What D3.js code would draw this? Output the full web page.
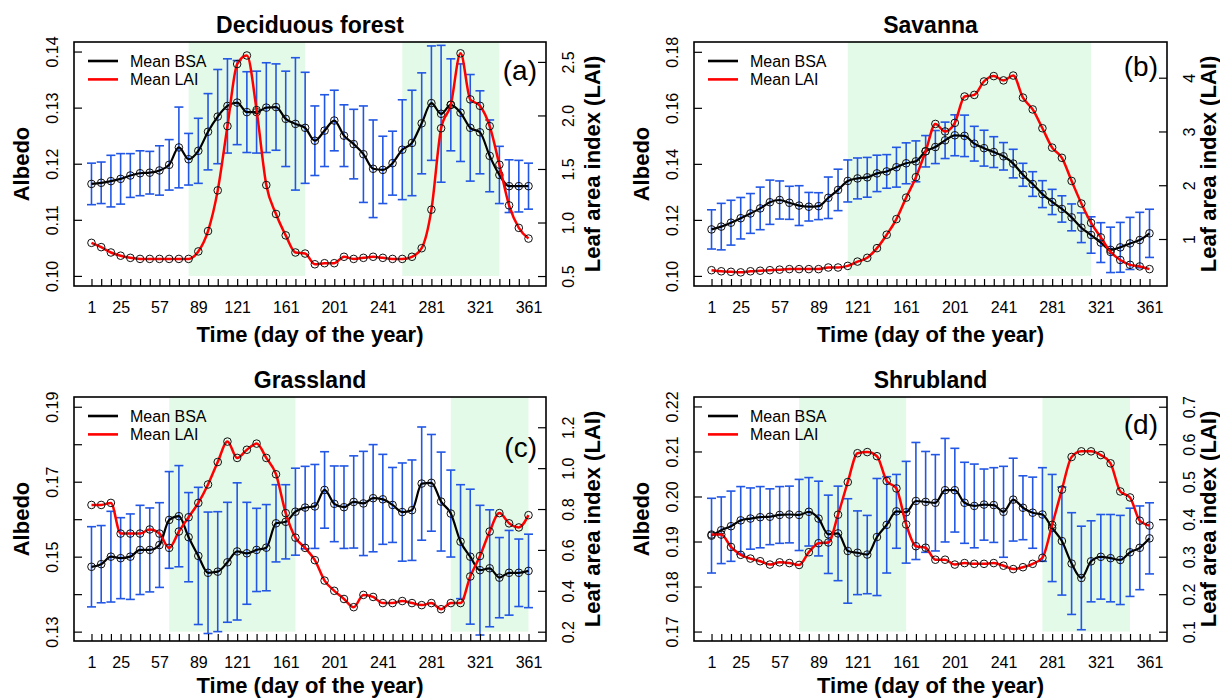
<!DOCTYPE html>
<html><head><meta charset="utf-8">
<script src="https://cdn.jsdelivr.net/npm/d3@7"></script>
<style>
body{margin:0;background:#fff;}
svg{display:block;font-family:"Liberation Sans",Arial,Helvetica,sans-serif;}
</style></head><body>
<svg id="chart" width="1220" height="699"></svg>
<script>
// ---------- data ----------
const days = [1,9,17,25,33,41,49,57,65,73,81,89,97,105,113,121,129,137,145,153,161,169,177,185,193,201,209,217,225,233,241,249,257,265,273,281,289,297,305,313,321,329,337,345,353,361];
const xTickLabels = [1,25,57,89,121,161,201,241,281,321,361];

// (a) Deciduous forest
const bsaA = [0.1164,0.1166,0.1169,0.1173,0.1179,0.1183,0.1184,0.1188,0.1198,0.1229,0.1208,0.1223,0.1257,0.1284,0.1303,0.1309,0.1292,0.1292,0.1300,0.1301,0.1280,0.1271,0.1264,0.1241,0.1259,0.1277,0.1250,0.1235,0.1217,0.1191,0.1189,0.1201,0.1225,0.1237,0.1272,0.1308,0.1289,0.1305,0.1291,0.1264,0.1256,0.1214,0.1180,0.1160,0.1160,0.1160];
const sdA  = [0.0037,0.0037,0.0046,0.0045,0.0039,0.0040,0.0038,0.0044,0.0045,0.0072,0.0046,0.0058,0.0068,0.0084,0.0084,0.0075,0.0072,0.0073,0.0080,0.0077,0.0085,0.0118,0.0099,0.0062,0.0064,0.0054,0.0055,0.0062,0.0086,0.0087,0.0060,0.0057,0.0089,0.0094,0.0090,0.0102,0.0122,0.0082,0.0087,0.0095,0.0074,0.0064,0.0051,0.0047,0.0046,0.0041];
const laiA = [0.81,0.77,0.72,0.69,0.67,0.66,0.66,0.66,0.66,0.66,0.66,0.73,0.92,1.30,1.90,2.48,2.56,2.05,1.35,1.08,0.88,0.72,0.71,0.61,0.62,0.62,0.68,0.66,0.67,0.68,0.67,0.66,0.66,0.68,0.76,1.12,1.88,2.10,2.58,2.15,2.09,1.90,1.54,1.16,0.95,0.85];
const shadeA = [[81,177],[257,337]];

// (b) Savanna
const bsaB = [0.1166,0.1176,0.1190,0.1206,0.1223,0.1241,0.1263,0.1271,0.1261,0.1251,0.1247,0.1249,0.1279,0.1307,0.1339,0.1348,0.1352,0.1366,0.1373,0.1388,0.1402,0.1409,0.1445,0.1460,0.1484,0.1502,0.1500,0.1472,0.1456,0.1442,0.1427,0.1401,0.1361,0.1328,0.1292,0.1264,0.1239,0.1209,0.1172,0.1146,0.1119,0.1093,0.1102,0.1116,0.1128,0.1152];
const sdB  = [0.0070,0.0083,0.0080,0.0074,0.0071,0.0076,0.0079,0.0068,0.0059,0.0071,0.0051,0.0048,0.0074,0.0074,0.0075,0.0073,0.0071,0.0065,0.0060,0.0071,0.0073,0.0073,0.0056,0.0059,0.0065,0.0073,0.0074,0.0062,0.0064,0.0055,0.0049,0.0051,0.0041,0.0044,0.0048,0.0045,0.0047,0.0048,0.0053,0.0065,0.0071,0.0081,0.0089,0.0093,0.0099,0.0086];
const laiB = [0.42,0.40,0.39,0.38,0.40,0.41,0.42,0.43,0.44,0.44,0.44,0.44,0.47,0.47,0.50,0.58,0.65,0.83,1.08,1.37,1.77,2.15,2.63,3.14,3.00,3.16,3.65,3.68,3.93,4.03,3.95,4.04,3.63,3.41,3.06,2.70,2.51,2.08,1.66,1.30,1.03,0.76,0.61,0.52,0.49,0.44];
const shadeB = [[113,313]];

// (c) Grassland
const bsaC = [0.1473,0.1480,0.1500,0.1496,0.1500,0.1518,0.1518,0.1531,0.1598,0.1608,0.1552,0.1502,0.1457,0.1460,0.1485,0.1514,0.1509,0.1518,0.1524,0.1589,0.1593,0.1620,0.1631,0.1634,0.1678,0.1641,0.1632,0.1646,0.1642,0.1656,0.1653,0.1638,0.1619,0.1624,0.1695,0.1697,0.1647,0.1615,0.1540,0.1500,0.1464,0.1469,0.1444,0.1457,0.1457,0.1462];
const sdC  = [0.0107,0.0103,0.0121,0.0108,0.0114,0.0119,0.0112,0.0113,0.0129,0.0135,0.0119,0.0183,0.0162,0.0160,0.0160,0.0183,0.0136,0.0111,0.0115,0.0103,0.0099,0.0116,0.0110,0.0112,0.0102,0.0101,0.0110,0.0123,0.0139,0.0143,0.0120,0.0100,0.0131,0.0134,0.0151,0.0129,0.0132,0.0116,0.0152,0.0180,0.0173,0.0156,0.0107,0.0113,0.0090,0.0098];
const laiC = [0.82,0.82,0.83,0.68,0.68,0.68,0.70,0.68,0.61,0.69,0.76,0.83,0.92,1.03,1.13,1.05,1.09,1.12,1.05,0.97,0.78,0.66,0.61,0.55,0.45,0.40,0.36,0.32,0.38,0.37,0.34,0.34,0.35,0.34,0.33,0.34,0.31,0.34,0.34,0.47,0.57,0.69,0.78,0.73,0.71,0.77];
const shadeC = [[65,169],[297,361]];

// (d) Shrubland
const bsaD = [0.1913,0.1925,0.1934,0.1947,0.1951,0.1954,0.1955,0.1959,0.1960,0.1959,0.1966,0.1951,0.1916,0.1918,0.1879,0.1875,0.1871,0.1910,0.1937,0.1967,0.1965,0.1990,0.1988,0.1986,0.2014,0.2014,0.1986,0.1979,0.1982,0.1981,0.1966,0.1993,0.1975,0.1964,0.1960,0.1930,0.1901,0.1851,0.1819,0.1856,0.1866,0.1863,0.1859,0.1876,0.1886,0.1907];
const sdD  = [0.0083,0.0074,0.0078,0.0075,0.0068,0.0068,0.0062,0.0063,0.0063,0.0079,0.0076,0.0083,0.0087,0.0105,0.0116,0.0093,0.0087,0.0130,0.0107,0.0082,0.0113,0.0130,0.0112,0.0107,0.0115,0.0093,0.0090,0.0093,0.0079,0.0083,0.0101,0.0092,0.0071,0.0079,0.0104,0.0119,0.0120,0.0113,0.0115,0.0090,0.0094,0.0097,0.0099,0.0098,0.0093,0.0079];
const laiD = [0.359,0.359,0.326,0.305,0.295,0.288,0.279,0.285,0.283,0.278,0.312,0.336,0.338,0.412,0.499,0.576,0.579,0.568,0.502,0.482,0.386,0.328,0.324,0.292,0.292,0.279,0.283,0.281,0.281,0.283,0.276,0.267,0.272,0.281,0.297,0.385,0.479,0.566,0.581,0.581,0.571,0.549,0.474,0.458,0.396,0.383];
const shadeD = [[73,161],[273,345]];

// axis ticks
const albTicksA = [0.10,0.11,0.12,0.13,0.14], albLabA = albTicksA;
const albTicksB = [0.10,0.12,0.14,0.16,0.18], albLabB = albTicksB;
const albTicksC = [0.13,0.14,0.15,0.16,0.17,0.18,0.19], albLabC = [0.13,0.15,0.17,0.19];
const albTicksD = [0.17,0.18,0.19,0.20,0.21,0.22], albLabD = albTicksD;
const laiTicksA = [0.5,1.0,1.5,2.0,2.5];
const laiTicksB = [1,2,3,4];
const laiTicksC = [0.2,0.4,0.6,0.8,1.0,1.2];
const laiTicksD = [0.1,0.2,0.3,0.4,0.5,0.6,0.7];

// ---------- layout ----------
const panels = [
  {title:"Deciduous forest", tag:"(a)", bsa:bsaA, sd:sdA, lai:laiA, shade:shadeA,
   albTicks:albTicksA, albLab:albLabA, laiTicks:laiTicksA, laiFmt:".1f",
   albDomain:[0.0982,0.1417], laiDomain:[0.407,2.686], base:0.10,
   box:{x0:74,x1:546,y0:42,y1:286}, tagY:38, xTitleDy:56, rTitleDx:46},
  {title:"Savanna", tag:"(b)", bsa:bsaB, sd:sdB, lai:laiB, shade:shadeB,
   albTicks:albTicksB, albLab:albLabB, laiTicks:laiTicksB, laiFmt:"d",
   albDomain:[0.0964,0.1835], laiDomain:[0.126,4.664], base:0.10,
   box:{x0:694,x1:1167,y0:42,y1:286}, tagY:34, xTitleDy:56, rTitleDx:41},
  {title:"Grassland", tag:"(c)", bsa:bsaC, sd:sdC, lai:laiC, shade:shadeC,
   albTicks:albTicksC, albLab:albLabC, laiTicks:laiTicksC, laiFmt:".1f",
   albDomain:[0.1275,0.1926], laiDomain:[0.1545,1.348], base:0.13,
   box:{x0:74,x1:546,y0:397,y1:641}, tagY:60, xTitleDy:52, rTitleDx:46},
  {title:"Shrubland", tag:"(d)", bsa:bsaD, sd:sdD, lai:laiD, shade:shadeD,
   albTicks:albTicksD, albLab:albLabD, laiTicks:laiTicksD, laiFmt:".1f",
   albDomain:[0.1679,0.2221], laiDomain:[0.0752,0.7259], base:0.17,
   box:{x0:694,x1:1167,y0:397,y1:641}, tagY:37, xTitleDy:52, rTitleDx:41}
];

const svg = d3.select("#chart");
const BLUE = "#2157e4", RED = "#ff0000", GREEN = "#e4fae8";
const f2 = d3.format(".2f");

panels.forEach(p => {
  const b = p.box;
  const g = svg.append("g");
  const x = d3.scaleLinear().domain([1 - 14.4, 361 + 14.4]).range([b.x0, b.x1]);
  const yA = d3.scaleLinear().domain(p.albDomain).range([b.y1, b.y0]);
  const yL = d3.scaleLinear().domain(p.laiDomain).range([b.y1, b.y0]);

  // shaded periods
  g.selectAll("rect.shade").data(p.shade).join("rect")
    .attr("x", d => x(d[0])).attr("width", d => x(d[1]) - x(d[0]))
    .attr("y", b.y0).attr("height", yA(p.base) - b.y0)
    .attr("fill", GREEN);

  const pts = days.map((d, i) => ({d, m:p.bsa[i], s:p.sd[i], l:p.lai[i]}));

  // error bars
  const eb = g.append("g").attr("stroke", BLUE).attr("stroke-width", 1.6).attr("fill", "none");
  pts.forEach(o => {
    const xx = x(o.d), yt = yA(o.m + o.s), yb = yA(o.m - o.s);
    eb.append("line").attr("x1", xx).attr("x2", xx).attr("y1", yt).attr("y2", yb);
    eb.append("line").attr("x1", xx - 4.5).attr("x2", xx + 4.5).attr("y1", yt).attr("y2", yt);
    eb.append("line").attr("x1", xx - 4.5).attr("x2", xx + 4.5).attr("y1", yb).attr("y2", yb);
  });

  // BSA line + circles
  g.append("path").datum(pts)
    .attr("d", d3.line().x(o => x(o.d)).y(o => yA(o.m)).curve(d3.curveMonotoneX))
    .attr("fill", "none").attr("stroke", "#000").attr("stroke-width", 2.2);
  g.append("g").selectAll("circle").data(pts).join("circle")
    .attr("cx", o => x(o.d)).attr("cy", o => yA(o.m)).attr("r", 3.8)
    .attr("fill", "none").attr("stroke", "#111").attr("stroke-width", 1);

  // LAI line + circles
  g.append("path").datum(pts)
    .attr("d", d3.line().x(o => x(o.d)).y(o => yL(o.l)).curve(d3.curveMonotoneX))
    .attr("fill", "none").attr("stroke", RED).attr("stroke-width", 2.5);
  g.append("g").selectAll("circle").data(pts).join("circle")
    .attr("cx", o => x(o.d)).attr("cy", o => yL(o.l)).attr("r", 3.8)
    .attr("fill", "none").attr("stroke", "#111").attr("stroke-width", 1);

  // bottom axis (ticks inward)
  const ax = g.append("g").attr("transform", `translate(0,${b.y1})`)
    .call(d3.axisBottom(x).tickValues(days).tickSize(-7).tickPadding(16)
      .tickFormat(d => xTickLabels.includes(d) ? d : ""));
  ax.select(".domain").remove();
  ax.selectAll("line").attr("stroke", "#000").attr("stroke-width", 1.2);
  ax.selectAll("text").attr("font-size", 16).attr("font-family", null).attr("fill", "#000");

  // left axis
  const al = g.append("g").attr("transform", `translate(${b.x0},0)`)
    .call(d3.axisLeft(yA).tickValues(p.albTicks).tickSize(-8)
      .tickFormat(d => p.albLab.some(v => Math.abs(v - d) < 1e-9) ? f2(d) : ""));
  al.select(".domain").remove();
  al.selectAll("line").attr("stroke", "#000").attr("stroke-width", 1.2);
  al.selectAll("text").attr("x", null).attr("dy", null)
    .attr("text-anchor", "middle").attr("dominant-baseline", "central")
    .attr("transform", "translate(-22,0) rotate(-90)")
    .attr("font-size", 16).attr("font-family", null).attr("fill", "#000");

  // right axis
  const ar = g.append("g").attr("transform", `translate(${b.x1},0)`)
    .call(d3.axisRight(yL).tickValues(p.laiTicks).tickSize(-8).tickFormat(d3.format(p.laiFmt)));
  ar.select(".domain").remove();
  ar.selectAll("line").attr("stroke", "#000").attr("stroke-width", 1.2);
  ar.selectAll("text").attr("x", null).attr("dy", null)
    .attr("text-anchor", "middle").attr("dominant-baseline", "central")
    .attr("transform", "translate(22,0) rotate(-90)")
    .attr("font-size", 16).attr("font-family", null).attr("fill", "#000");

  // box
  g.append("rect").attr("x", b.x0).attr("y", b.y0)
    .attr("width", b.x1 - b.x0).attr("height", b.y1 - b.y0)
    .attr("fill", "none").attr("stroke", "#000").attr("stroke-width", 1.6);

  const cx = (b.x0 + b.x1) / 2, cy = (b.y0 + b.y1) / 2;
  // titles
  g.append("text").attr("x", cx).attr("y", b.y0 - 9.5).attr("text-anchor", "middle")
    .attr("font-size", 23).attr("font-weight", "bold").text(p.title);
  g.append("text").attr("x", cx).attr("y", b.y1 + p.xTitleDy).attr("text-anchor", "middle")
    .attr("font-size", 22).attr("font-weight", "bold").text("Time (day of the year)");
  g.append("text").attr("transform", `translate(${b.x0 - 52.5},${cy}) rotate(-90)`)
    .attr("text-anchor", "middle").attr("dominant-baseline", "central")
    .attr("font-size", 22).attr("font-weight", "bold").text("Albedo");
  g.append("text").attr("transform", `translate(${b.x1 + p.rTitleDx},${cy}) rotate(-90)`)
    .attr("text-anchor", "middle").attr("dominant-baseline", "central")
    .attr("font-size", 22).attr("font-weight", "bold").text("Leaf area index (LAI)");

  // tag
  g.append("text").attr("x", b.x1 - 9).attr("y", b.y0 + p.tagY).attr("text-anchor", "end")
    .attr("font-size", 28).text(p.tag);

  // legend
  const lg = g.append("g");
  [["Mean BSA", "#000", 19, 25], ["Mean LAI", RED, 37.4, 42.5]].forEach(([t, c, ly, ty]) => {
    lg.append("line").attr("x1", b.x0 + 14).attr("x2", b.x0 + 44)
      .attr("y1", b.y0 + ly).attr("y2", b.y0 + ly).attr("stroke", c).attr("stroke-width", 2.6);
    lg.append("text").attr("x", b.x0 + 56).attr("y", b.y0 + ty).attr("font-size", 16).text(t);
  });
});
</script>
</body></html>
